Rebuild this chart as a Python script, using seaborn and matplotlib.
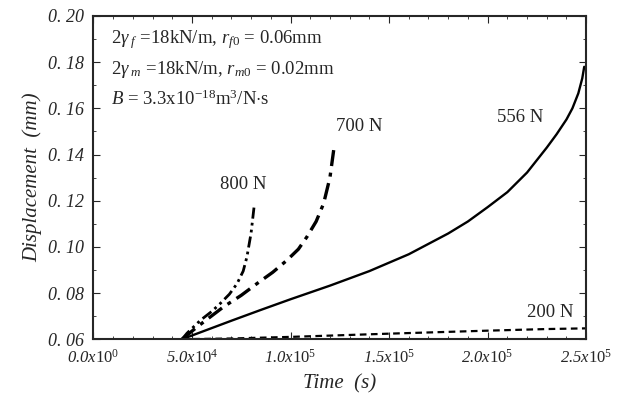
import matplotlib
matplotlib.use("Agg")
import matplotlib.pyplot as plt
import seaborn as sns
import pandas as pd
from matplotlib.ticker import AutoMinorLocator

# values
t_800 = [4.5e4, 4.75e4, 5.43e4, 6.0e4, 6.44e4, 6.9e4, 7.29e4, 7.6e4, 7.79e4, 8.0e4, 8.16e4]
d_800 = [0.060, 0.0626, 0.0682, 0.0720, 0.0755, 0.0795, 0.0841, 0.0895, 0.0957, 0.106, 0.118]

t_700 = [4.5e4, 5.26e4, 6.6e4, 7.5e4, 8.3e4, 9.1e4, 9.82e4, 1.04e5, 1.083e5, 1.13e5,
         1.168e5, 1.20e5, 1.219e5]
d_700 = [0.060, 0.0653, 0.074, 0.079, 0.0841, 0.089, 0.0942, 0.0990, 0.1043, 0.111,
         0.1188, 0.130, 0.1419]

t_556 = [4.5e4, 5.5e4, 7.0e4, 8.5e4, 1.0e5, 1.2e5, 1.4e5, 1.6e5, 1.8e5, 1.9e5, 2.0e5,
         2.1e5, 2.2e5, 2.3e5, 2.35e5, 2.4e5, 2.43e5, 2.46e5, 2.48e5, 2.49e5]
d_556 = [0.060, 0.0632, 0.0680, 0.0727, 0.0773, 0.0832, 0.0895, 0.0968, 0.1058, 0.1110,
         0.1172, 0.1237, 0.1322, 0.1430, 0.1488, 0.1552, 0.1600, 0.1665, 0.1730, 0.1780]

t_200 = [4.5e4, 7.0e4, 1.0e5, 1.5e5, 2.0e5, 2.3e5, 2.5e5]
d_200 = [0.060, 0.0603, 0.0610, 0.0624, 0.0637, 0.0644, 0.0647]

x_ticks = [0, 5e4, 1e5, 1.5e5, 2e5, 2.5e5]
x_ticklabels = [r"0.0x$\mathit{10}^{0}$", r"5.0x$\mathit{10}^{4}$", r"1.0x$\mathit{10}^{5}$",
                r"1.5x$\mathit{10}^{5}$", r"2.0x$\mathit{10}^{5}$", r"2.5x$\mathit{10}^{5}$"]
y_ticks = [0.06, 0.08, 0.10, 0.12, 0.14, 0.16, 0.18, 0.20]

sns.set_style("ticks")
plt.rcParams["font.family"] = ["Liberation Serif", "DejaVu Serif"]
plt.rcParams["mathtext.fontset"] = "custom"
plt.rcParams["mathtext.rm"] = "Liberation Serif"
plt.rcParams["mathtext.it"] = "Liberation Serif:italic"
plt.rcParams["mathtext.bf"] = "Liberation Serif:bold"

fig, ax = plt.subplots(figsize=(6.31, 4.0), dpi=100)

series = [
    (t_800, d_800, (0, (4, 1.5, 1, 1.5, 1, 1.5)), 2.0),
    (t_700, d_700, (0, (5, 2, 1.2, 2)), 2.4),
    (t_556, d_556, "-", 1.7),
    (t_200, d_200, (0, (3, 2)), 1.6),
]
for t, d, ls, lw in series:
    df = pd.DataFrame({"t": t, "d": d})
    sns.lineplot(data=df, x="t", y="d", ax=ax, color="black", linestyle=ls, linewidth=lw)

ax.set_xlim(0, 2.5e5)
ax.set_ylim(0.06, 0.20)
ax.set_xticks(x_ticks)
ax.set_xticklabels(x_ticklabels, fontstyle="italic", fontsize=12)
ax.set_yticks(y_ticks)
ax.set_yticklabels([f"{v:.2f}".replace(".", ". ") for v in y_ticks], fontstyle="italic", fontsize=13)
ax.xaxis.set_minor_locator(AutoMinorLocator(5))
ax.yaxis.set_minor_locator(AutoMinorLocator(2))
ax.tick_params(which="both", direction="in", top=True, right=True)
ax.tick_params(which="major", length=5)
ax.tick_params(which="minor", length=2)
ax.tick_params(axis="x", which="major", pad=7)
ax.tick_params(axis="y", which="major", pad=7)
for s in ax.spines.values():
    s.set_linewidth(1.5)

ax.set_xlabel("Time  (s)", fontstyle="italic", fontsize=15, labelpad=5)
ax.set_ylabel("Displacement  (mm)", fontstyle="italic", fontsize=15, labelpad=4)

ax.text(0.035, 0.915, r"$2\gamma_{\ f}$ =18kN/m, $r_{f0}$ = 0.06mm", transform=ax.transAxes, fontsize=13.5)
ax.text(0.035, 0.82, r"$2\gamma_{\ m}$ =18kN/m, $r_{m0}$ = 0.02mm", transform=ax.transAxes, fontsize=13.5)
ax.text(0.035, 0.725, r"$B$ = 3.3x10$^{-18}$m$^3$/N$\cdot$s", transform=ax.transAxes, fontsize=13.5)

ax.text(1.23e5, 0.150, "700 N", fontsize=13.5)
ax.text(6.4e4, 0.125, "800 N", fontsize=13.5)
ax.text(2.05e5, 0.154, "556 N", fontsize=13.5)
ax.text(2.2e5, 0.0695, "200 N", fontsize=13.5)

fig.subplots_adjust(left=0.148, right=0.929, top=0.96, bottom=0.152)
fig.savefig("out.png", dpi=100)
